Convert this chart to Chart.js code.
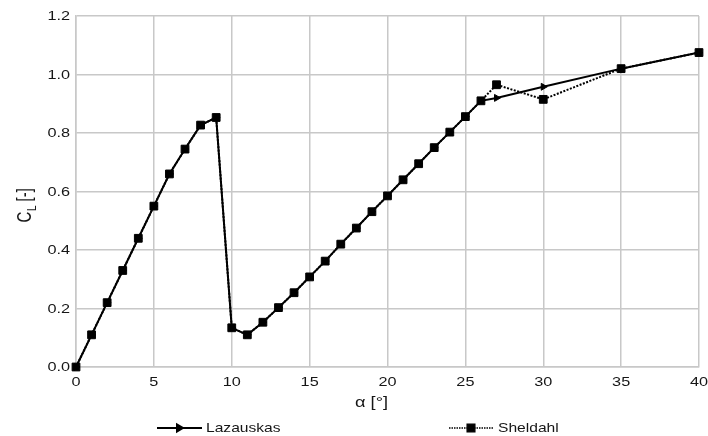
<!DOCTYPE html>
<html>
<head>
<meta charset="utf-8">
<script src="https://cdn.jsdelivr.net/npm/chart.js@4.4.1/dist/chart.umd.min.js"></script>
<style>
  html, body { margin: 0; padding: 0; background: #fff; }
  #wrap { width: 708px; height: 436px; }
</style>
</head>
<body>
<div id="wrap"><canvas id="cl-chart"></canvas></div>
<script>
// Angle of attack (deg) and lift coefficient for the two data sets
const alpha = [0, 1, 2, 3, 4, 5, 6, 7, 8, 9, 10, 11, 12, 13, 14, 15, 16, 17, 18, 19, 20,
    21, 22, 23, 24, 25, 26, 27, 30, 35, 40];
const lazauskas = [0, 0.11, 0.22, 0.33, 0.44, 0.55, 0.66, 0.745, 0.827, 0.853, 0.134, 0.11,
    0.153, 0.203, 0.254, 0.308, 0.362, 0.42, 0.475, 0.531, 0.585,
    0.64, 0.695, 0.75, 0.803, 0.856, 0.91, 0.92, 0.958, 1.02, 1.075];
const sheldahl = [0, 0.11, 0.22, 0.33, 0.44, 0.55, 0.66, 0.745, 0.827, 0.853, 0.134, 0.11,
    0.153, 0.203, 0.254, 0.308, 0.362, 0.42, 0.475, 0.531, 0.585,
    0.64, 0.695, 0.75, 0.803, 0.856, 0.91, 0.965, 0.915, 1.02, 1.075];
const seriesNames = ['Lazauskas', 'Sheldahl'];

const xTicks = { min: 0, max: 40, step: 5 };
const yTicks = { min: 0, max: 1.2, step: 0.2 };

const FONT = "'Liberation Sans', Arial, sans-serif";
const GRID = '#c8c8c8';
const TEXT = '#161616';
const STRETCH = 1.25;   // text is drawn a bit wider than the font's natural width

function toPoints(xs, ys) {
    return xs.map((x, i) => ({ x: x, y: ys[i] }));
}

// draw text scaled horizontally around its anchor
function wideText(ctx, text, x, y, align, font, stretch) {
    ctx.save();
    ctx.font = font;
    ctx.textAlign = align;
    ctx.translate(x, y);
    ctx.scale(stretch, 1);
    ctx.fillText(text, 0, 0);
    ctx.restore();
}

// Tick labels and axis titles
const axisTextPlugin = {
    id: 'axisText',
    afterDraw(chart) {
        const ctx = chart.ctx;
        const area = chart.chartArea;
        const xs = chart.scales.x;
        const ys = chart.scales.y;
        const tickFont = '13px ' + FONT;
        ctx.save();
        ctx.fillStyle = TEXT;
        ctx.textBaseline = 'middle';
        ys.ticks.forEach(t => {
            wideText(ctx, t.value.toFixed(1), area.left - 6, ys.getPixelForValue(t.value) + 0.5,
                'right', tickFont, STRETCH);
        });
        xs.ticks.forEach(t => {
            wideText(ctx, String(Math.round(t.value)), xs.getPixelForValue(t.value), area.bottom + 15,
                'center', tickFont, STRETCH);
        });

        // x title
        wideText(ctx, 'α [°]', (area.left + area.right) / 2 - 16, area.bottom + 36,
            'center', '14px ' + FONT, 1.3);

        // y title, C with subscript L
        const big = '15px ' + FONT;
        const small = '10px ' + FONT;
        ctx.textBaseline = 'alphabetic';
        ctx.textAlign = 'left';
        ctx.font = big;
        const wC = ctx.measureText('C').width;
        const wRest = ctx.measureText(' [-]').width;
        ctx.font = small;
        const wL = ctx.measureText('L').width;
        const total = wC + wL + wRest;
        ctx.translate(31, (area.top + area.bottom) / 2 + 14);
        ctx.scale(1.3, 1);
        ctx.rotate(-Math.PI / 2);
        let x = -total / 2;
        ctx.font = big;
        ctx.fillText('C', x, 0);
        x += wC + 0.5;
        ctx.font = small;
        ctx.fillText('L', x, 4);
        x += wL;
        ctx.font = big;
        ctx.fillText(' [-]', x, 0);
        ctx.restore();
    }
};

// Legend with line sample and marker for each series
const legendStarts = [157, 449];
const lineLegendPlugin = {
    id: 'lineLegend',
    afterDraw(chart) {
        const ctx = chart.ctx;
        const y = 428;
        chart.data.datasets.forEach((ds, i) => {
            const x0 = legendStarts[i];
            ctx.save();
            ctx.strokeStyle = ds.borderColor;
            ctx.lineWidth = ds.legendLineWidth;
            ctx.setLineDash(ds.legendDash || []);
            ctx.beginPath();
            ctx.moveTo(x0, y);
            ctx.lineTo(x0 + 45, y);
            ctx.stroke();
            ctx.setLineDash([]);
            ctx.fillStyle = ds.pointBackgroundColor;
            ctx.strokeStyle = ds.pointBorderColor;
            Chart.helpers.drawPoint(ctx, {
                pointStyle: ds.pointStyle,
                rotation: ds.pointRotation || 0,
                radius: ds.pointRadius,
                borderWidth: ds.pointBorderWidth
            }, x0 + 22, y);
            ctx.fillStyle = TEXT;
            ctx.textBaseline = 'middle';
            wideText(ctx, ds.label, x0 + 49, y + 0.5, 'left', '13px ' + FONT, 1.2);
            ctx.restore();
        });
    }
};

const ctx = document.getElementById('cl-chart').getContext('2d');
const clChart = new Chart(ctx, {
    type: 'line',
    data: {
        datasets: [{
            label: seriesNames[0],
            data: toPoints(alpha, lazauskas),
            borderColor: '#000',
            borderWidth: 2,
            legendLineWidth: 2,
            pointStyle: 'triangle',
            pointRotation: 90,
            pointRadius: 4,
            pointBorderWidth: 1,
            pointBackgroundColor: '#000',
            pointBorderColor: '#000',
            order: 2
        }, {
            label: seriesNames[1],
            data: toPoints(alpha, sheldahl),
            borderColor: '#000',
            borderWidth: 2,
            legendLineWidth: 1.3,
            legendDash: [1.5, 1],
            borderDash: [2, 1.5],
            pointStyle: 'rect',
            pointRadius: 5.5,
            pointBorderWidth: 1,
            pointBackgroundColor: '#000',
            pointBorderColor: '#000',
            order: 1
        }]
    },
    options: {
        responsive: true,
        maintainAspectRatio: false,
        animation: false,
        clip: false,
        layout: {
            padding: { left: 0, top: 16, right: 9, bottom: 27 }
        },
        plugins: {
            legend: { display: false },
            tooltip: { enabled: false }
        },
        scales: {
            x: {
                type: 'linear',
                min: xTicks.min,
                max: xTicks.max,
                afterFit(scale) { scale.height = 42; },
                grid: { color: GRID, lineWidth: 1.5, drawTicks: false },
                border: { color: GRID, width: 1.5 },
                ticks: { stepSize: xTicks.step, display: false }
            },
            y: {
                min: yTicks.min,
                max: yTicks.max,
                afterFit(scale) { scale.width = 76; },
                grid: { color: GRID, lineWidth: 1.5, drawTicks: false },
                border: { color: GRID, width: 1.5 },
                ticks: { stepSize: yTicks.step, display: false }
            }
        }
    },
    plugins: [axisTextPlugin, lineLegendPlugin]
});
</script>
</body>
</html>
